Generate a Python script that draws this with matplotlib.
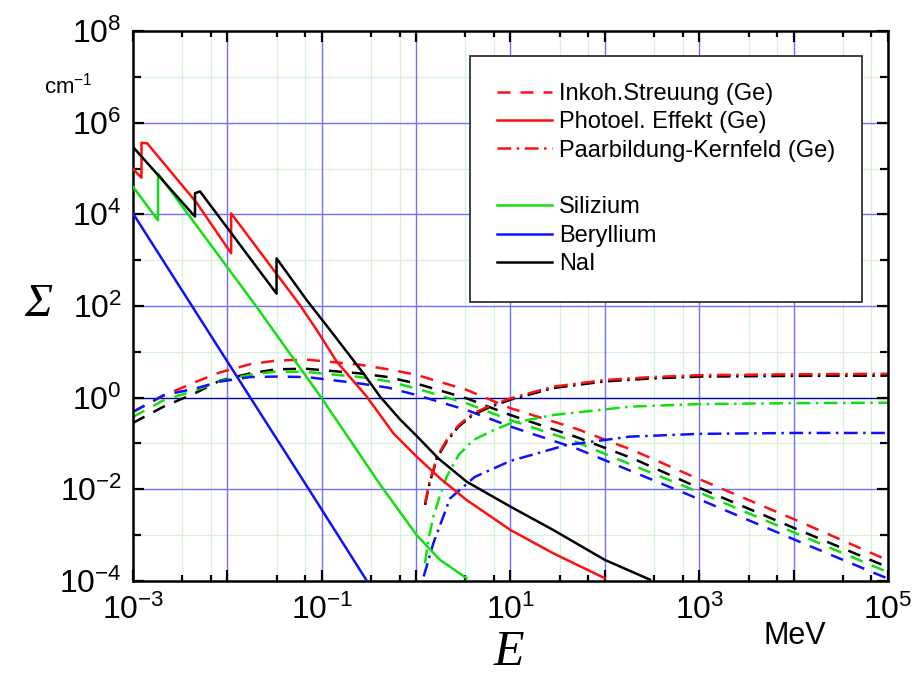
import numpy as np
import matplotlib
matplotlib.use("Agg")
import matplotlib.pyplot as plt
from matplotlib.lines import Line2D
from matplotlib.ticker import FixedLocator, FuncFormatter, NullFormatter

plt.rcParams['font.family'] = ['Liberation Sans', 'DejaVu Sans']
plt.rcParams['mathtext.fontset'] = 'custom'
plt.rcParams['mathtext.rm'] = 'Liberation Sans'
plt.rcParams['mathtext.it'] = 'Liberation Sans:italic'
plt.rcParams['mathtext.bf'] = 'Liberation Sans:bold'

# ---------------- data (log10 values) ----------------
# Photoelectric effect (solid)
photo_ge_logE = [-3.0, -2.91, -2.91, -2.85, -2.325, -1.96, -1.96, -1.231, -1.053, -0.841, -0.523,
                 -0.241, 0.006, 0.253, 0.535, 1.0, 1.453, 2.0]
photo_ge_logS = [4.99, 4.80, 5.56, 5.55, 4.25, 3.15, 4.02, 2.02, 1.476, 0.785, 0.022,
                 -0.778, -1.287, -1.76, -2.233, -2.887, -3.396, -3.94]

photo_nai_logE = [-3.0, -2.343, -2.343, -2.29, -1.479, -1.479, -1.16, -0.912, -0.559, -0.382,
                  -0.171, 0.006, 0.235, 0.535, 1.0, 1.453, 2.0, 2.477]
photo_nai_logS = [5.47, 3.95, 4.46, 4.50, 2.27, 3.04, 2.13, 1.476, 0.531, 0.022,
                  -0.473, -0.836, -1.324, -1.833, -2.378, -2.887, -3.54, -3.97]

photo_si_logE = [-3.0, -2.735, -2.735, -1.69, -1.0, -0.7, -0.38, 0.006, 0.253, 0.535]
photo_si_logS = [4.6, 3.87, 4.89, 1.98, -0.015, -0.924, -1.9, -3.0, -3.54, -3.94]

photo_be_logE = [-3.0, -1.761, -1.229, -0.524]
photo_be_logS = [4.02, 0.015, -1.7, -3.99]

# Incoherent scattering (dashed)
incoh_logE = [-3.0, -2.68, -2.34, -2.08, -1.76, -1.48, -1.16, -0.6, -0.3, 0.0, 0.535, 1.0,
              1.7, 2.3, 2.9, 4.07, 5.0]
incoh_ge_logS = [-0.31, 0.04, 0.34, 0.55, 0.73, 0.81, 0.83, 0.72, 0.62, 0.5, 0.17, -0.23,
                 -0.68, -1.15, -1.69, -2.71, -3.55]
incoh_nai_logS = [-0.55, -0.2, 0.1, 0.37, 0.53, 0.62, 0.63, 0.53, 0.45, 0.31, -0.015, -0.38,
                  -0.86, -1.33, -1.88, -2.90, -3.70]
incoh_si_logS = [-0.42, -0.06, 0.16, 0.36, 0.5, 0.57, 0.56, 0.45, 0.36, 0.2, -0.124, -0.49,
                 -0.97, -1.48, -1.98, -3.0, -3.81]
incoh_be_logS = [-0.31, 0.05, 0.2, 0.35, 0.45, 0.46, 0.45, 0.31, 0.22, 0.06, -0.27, -0.63,
                 -1.11, -1.62, -2.13, -3.15, -3.95]

# Pair production in nuclear field (dash-dot)
pair_ge_logE = [0.094, 0.146, 0.182, 0.217, 0.324, 0.45, 0.606, 0.8, 1.0, 1.453, 2.0, 2.5, 3.0, 4.0, 5.0]
pair_ge_logS = [-2.305, -1.8, -1.578, -1.3, -0.924, -0.6, -0.342, -0.16, -0.015, 0.24, 0.385, 0.45,
                0.49, 0.51, 0.52]
pair_nai_logS = [-2.34, -1.83, -1.61, -1.33, -0.955, -0.63, -0.37, -0.19, -0.045, 0.21, 0.355, 0.42,
                 0.46, 0.475, 0.48]

pair_si_logE = [0.094, 0.13, 0.182, 0.25, 0.324, 0.45, 0.606, 0.82, 1.0, 1.453, 2.265, 3.0, 4.0, 5.0]
pair_si_logS = [-3.61, -3.1, -2.6, -2.15, -1.724, -1.25, -0.924, -0.71, -0.56, -0.378, -0.196,
                -0.14, -0.12, -0.11]

pair_be_logE = [0.08, 0.182, 0.359, 0.62, 1.0, 1.594, 2.265, 3.0, 4.0, 5.0]
pair_be_logS = [-3.9, -3.18, -2.2, -1.73, -1.38, -1.033, -0.85, -0.79, -0.77, -0.77]

legend_labels = ["Inkoh.Streuung (Ge)", "Photoel. Effekt (Ge)", "Paarbildung-Kernfeld (Ge)",
                 "", "Silizium", "Beryllium", "NaI"]

# ---------------- styling ----------------
RED, GREEN, BLUE, BLACK = '#ff1010', '#10e010', '#1010ff', '#000000'
LW = 1.8
DASH = (0, (5.2, 4.0))
DASHDOT = (0, (5.5, 2.2, 1.0, 2.2))

def p(v):
    return 10.0 ** np.asarray(v)

fig = plt.figure(figsize=(9.16, 6.79), dpi=100)
ax = fig.add_axes([133/916, 1 - 581/679, 755/916, 550/679])
ax.set_xscale('log')
ax.set_yscale('log')
ax.set_xlim(1e-3, 1e5)
ax.set_ylim(1e-4, 1e8)

# grid
for d in range(-3, 6):
    for m in (10/3, 20/3):
        ax.axvline(m * 10.0**d, color='#d6f2d6', lw=0.9, zorder=0)
    if d > -3:
        ax.axvline(10.0**d, color='#7070ff', lw=1.0, zorder=0.5)
for d in range(-4, 9):
    if d % 2:
        ax.axhline(10.0**d, color='#d6f2d6', lw=0.9, zorder=0)
    elif -4 < d < 8:
        ax.axhline(10.0**d, color='#7070ff' if d != 0 else '#0000a0', lw=1.0, zorder=0.5)

# curves
for E, S, c in [(incoh_logE, incoh_ge_logS, RED), (incoh_logE, incoh_nai_logS, BLACK),
                (incoh_logE, incoh_si_logS, GREEN), (incoh_logE, incoh_be_logS, BLUE)]:
    ax.plot(p(E), p(S), color=c, lw=LW, linestyle=DASH, zorder=2)
for E, S, c in [(pair_be_logE, pair_be_logS, BLUE), (pair_si_logE, pair_si_logS, GREEN),
                (pair_ge_logE, pair_nai_logS, BLACK), (pair_ge_logE, pair_ge_logS, RED)]:
    ax.plot(p(E), p(S), color=c, lw=LW, linestyle=DASHDOT, zorder=2)
for E, S, c in [(photo_be_logE, photo_be_logS, BLUE), (photo_si_logE, photo_si_logS, GREEN),
                (photo_ge_logE, photo_ge_logS, RED), (photo_nai_logE, photo_nai_logS, BLACK)]:
    ax.plot(p(E), p(S), color=c, lw=LW, linestyle='-', zorder=3)

# ticks
ax.xaxis.set_major_locator(FixedLocator([10.0**d for d in range(-3, 6)]))
ax.xaxis.set_minor_locator(FixedLocator([m * 10.0**d for d in range(-3, 5) for m in (10/3, 20/3)]))
ax.xaxis.set_major_formatter(FuncFormatter(
    lambda v, pos: r'$\mathregular{10^{%d}}$' % round(np.log10(v)) if round(np.log10(v)) % 2 else ''))
ax.xaxis.set_minor_formatter(NullFormatter())
ax.yaxis.set_major_locator(FixedLocator([10.0**d for d in range(-4, 9, 2)]))
ax.yaxis.set_minor_locator(FixedLocator([10.0**d for d in range(-3, 8, 2)]))
ax.yaxis.set_major_formatter(FuncFormatter(lambda v, pos: r'$\mathregular{10^{%d}}$' % round(np.log10(v))))
ax.yaxis.set_minor_formatter(NullFormatter())
ax.tick_params(which='both', direction='in', top=True, right=True, width=1.6, labelsize=23)
ax.tick_params(axis='x', which='major', length=8, pad=10)
ax.tick_params(axis='x', which='minor', length=4.5)
ax.tick_params(axis='y', which='major', length=8, pad=8)
ax.tick_params(axis='y', which='minor', length=6)
for s in ax.spines.values():
    s.set_linewidth(1.8)

# legend
handles = [Line2D([], [], color=RED, lw=LW, linestyle=DASH),
           Line2D([], [], color=RED, lw=LW, linestyle='-'),
           Line2D([], [], color=RED, lw=LW, linestyle=DASHDOT),
           Line2D([], [], color='none', lw=0),
           Line2D([], [], color=GREEN, lw=LW),
           Line2D([], [], color=BLUE, lw=LW),
           Line2D([], [], color=BLACK, lw=LW)]
leg = ax.legend(handles, legend_labels, loc='upper right', bbox_to_anchor=(0.966, 0.955),
                borderaxespad=0, fontsize=17, handlelength=2.33, handletextpad=0.3,
                borderpad=1.15, labelspacing=0.27, fancybox=False, framealpha=1,
                edgecolor='#333333')
leg.get_frame().set_linewidth(1.3)

# axis labels and units
fig.text(38/916, 1 - 305/679, 'Σ', fontsize=34, family='Liberation Serif',
         style='italic', ha='center', va='center')
fig.text(509/916, 1 - 653/679, 'E', fontsize=36, family='Liberation Serif', style='italic',
         ha='center', va='center')
fig.text(68/916, 1 - 86/679, r'cm$^{\mathregular{-1}}$', fontsize=16, ha='center', va='center')
fig.text(795/916, 1 - 636/679, 'MeV', fontsize=22, ha='center', va='center')

fig.savefig('out.png', dpi=100)
